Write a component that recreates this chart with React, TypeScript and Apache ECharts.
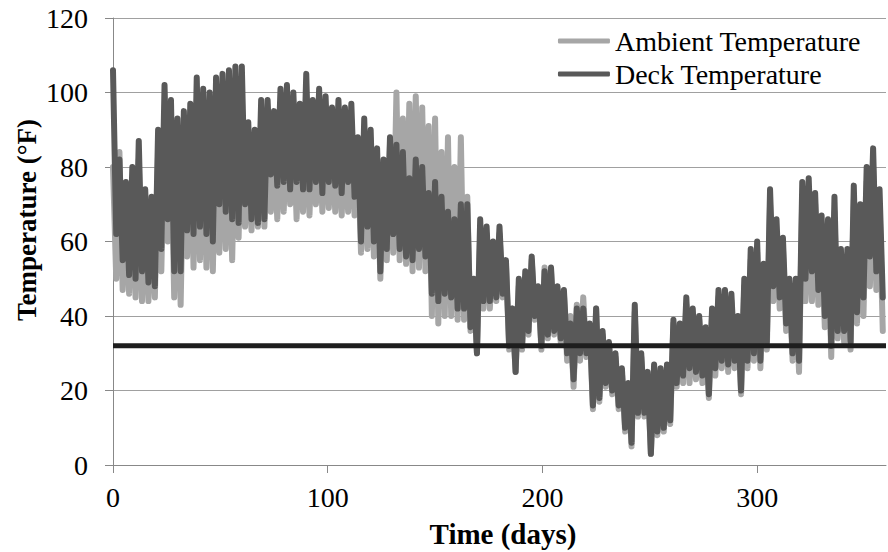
import React, { useEffect, useRef } from "react";
import * as echarts from "echarts";

// Values are read per 3-day block (block i starts at day 3*i): daily high and low envelope
const BLOCK_DAYS = 3;
const deckHigh = [
  106, 82, 76, 80, 87, 74, 72, 90, 102, 98,
  93, 95, 97, 104, 101, 100, 104, 105, 106, 107,
  107, 92, 90, 98, 98, 95, 101, 102, 100, 97,
  105, 98, 101, 99, 96, 98, 96, 97, 88, 93,
  90, 85, 82, 88, 86, 84, 77, 82, 80, 73,
  76, 72, 68, 66, 70, 70, 50, 66, 64, 60,
  64, 55, 42, 50, 52, 56, 48, 52, 53, 48,
  47, 38, 42, 42, 38, 42, 36, 33, 30, 26,
  22, 43, 30, 25, 27, 26, 27, 39, 38, 45,
  42, 40, 37, 42, 47, 47, 46, 40, 50, 58,
  60, 54, 74, 66, 61, 50, 50, 76, 77, 73,
  67, 66, 72, 58, 58, 75, 70, 80, 85, 74,
];
const deckLow = [
  62, 55, 51, 50, 52, 49, 48, 58, 66, 52,
  52, 63, 62, 64, 62, 60, 70, 68, 66, 65,
  70, 66, 65, 66, 78, 75, 76, 74, 76, 74,
  74, 76, 73, 76, 75, 73, 76, 72, 60, 64,
  60, 52, 58, 62, 58, 56, 55, 58, 56, 46,
  44, 46, 45, 42, 42, 37, 30, 44, 44, 45,
  46, 32, 25, 32, 36, 40, 32, 35, 36, 34,
  30, 23, 30, 30, 16, 18, 22, 20, 16, 10,
  6, 14, 14, 3, 9, 10, 12, 22, 24, 26,
  25, 24, 19, 26, 28, 27, 28, 20, 28, 30,
  28, 33, 48, 45, 38, 30, 28, 50, 52, 47,
  40, 32, 36, 36, 33, 41, 45, 56, 52, 45,
];
const ambientHigh = [
  80, 84, 74, 76, 82, 72, 70, 84, 92, 90,
  86, 88, 90, 94, 92, 92, 94, 95, 95, 96,
  96, 86, 84, 90, 90, 88, 92, 93, 92, 90,
  95, 90, 92, 91, 89, 90, 89, 89, 84, 86,
  84, 82, 80, 86, 100, 93, 97, 99, 96, 91,
  93, 84, 88, 80, 88, 72, 48, 62, 62, 58,
  62, 54, 42, 48, 50, 55, 47, 53, 52, 47,
  46, 40, 43, 45, 37, 42, 35, 32, 29, 25,
  21, 41, 29, 24, 26, 25, 26, 38, 37, 43,
  40, 39, 36, 41, 45, 45, 44, 39, 48, 55,
  57, 52, 70, 62, 58, 48, 48, 72, 72, 70,
  64, 62, 68, 56, 55, 71, 66, 76, 80, 70,
];
const ambientLow = [
  50, 47, 46, 45, 44, 44, 45, 52, 60, 45,
  43, 56, 53, 55, 53, 52, 57, 58, 55, 61,
  64, 63, 64, 64, 68, 66, 68, 70, 66, 68,
  67, 70, 68, 69, 68, 67, 68, 67, 57, 58,
  56, 50, 55, 57, 55, 54, 52, 53, 52, 40,
  38, 40, 40, 39, 39, 36, 30, 42, 42, 44,
  45, 31, 25, 31, 35, 39, 31, 34, 35, 33,
  28, 21, 28, 29, 15, 17, 21, 19, 15, 9,
  5, 13, 13, 3, 8, 9, 11, 21, 22, 22,
  23, 22, 18, 24, 26, 25, 26, 19, 26, 28,
  26, 31, 44, 42, 36, 28, 25, 44, 44, 43,
  37, 29, 34, 33, 31, 38, 40, 48, 47, 36,
];
const freezingLine = [32, 32];
const xTickValues = [0, 100, 200, 300];
const seriesNames = ["Ambient Temperature", "Deck Temperature"];

const FONT = "Liberation Serif";

function zigzag(high: number[], low: number[]) {
  const pts: number[][] = [];
  for (let i = 0; i < high.length; i++) {
    pts.push([i * BLOCK_DAYS, high[i]]);
    pts.push([i * BLOCK_DAYS + BLOCK_DAYS / 2, low[i]]);
  }
  return pts;
}

export default function App() {
  const ref = useRef<HTMLDivElement>(null);
  useEffect(() => {
    if (!ref.current) return;
    const chart = echarts.init(ref.current, undefined, { renderer: "svg" });
    chart.setOption({
      animation: false,
      backgroundColor: "#ffffff",
      textStyle: { fontFamily: FONT },
      grid: { left: 113, right: 2, top: 18, bottom: 87, containLabel: false },
      legend: {
        data: seriesNames.map((n) => ({ name: n, icon: "roundRect" })),
        orient: "vertical",
        right: 22,
        top: 22,
        itemWidth: 52,
        itemHeight: 5,
        itemGap: 5,
        textStyle: { fontFamily: FONT, fontSize: 28, color: "#000", lineHeight: 28 },
      },
      xAxis: {
        type: "value",
        min: 0,
        max: 360,
        interval: 100,
        axisLine: { show: true, onZero: false, lineStyle: { color: "#888888", width: 1 } },
        axisTick: { show: true, length: 8, customValues: xTickValues, lineStyle: { color: "#888888" } },
        axisLabel: {
          customValues: xTickValues,
          fontFamily: FONT,
          fontSize: 28,
          color: "#000",
          margin: 18,
          formatter: (v: number) => (v === 360 ? "" : String(v)),
        },
        splitLine: { show: false },
      },
      yAxis: {
        type: "value",
        min: 0,
        max: 120,
        interval: 20,
        axisLine: { show: true, lineStyle: { color: "#888888", width: 1 } },
        axisTick: { show: true, length: 8, lineStyle: { color: "#888888" } },
        axisLabel: { fontFamily: FONT, fontSize: 28, color: "#000", margin: 25 },
        splitLine: { show: true, lineStyle: { color: "#a0a0a0", width: 1.2 } },
      },
      graphic: [
        {
          type: "text",
          x: 27,
          y: 220,
          rotation: Math.PI / 2,
          style: {
            text: "Temperature (°F)",
            fontFamily: FONT,
            fontSize: 27,
            fontWeight: "bold",
            fill: "#000",
            align: "center",
            verticalAlign: "middle",
          },
        },
        {
          type: "text",
          x: 503,
          y: 534,
          style: {
            text: "Time (days)",
            fontFamily: FONT,
            fontSize: 29,
            fontWeight: "bold",
            fill: "#000",
            align: "center",
            verticalAlign: "middle",
          },
        },
      ],
      series: [
        {
          name: seriesNames[0],
          type: "line",
          data: zigzag(ambientHigh, ambientLow),
          showSymbol: false,
          symbol: "none",
          color: "#a6a6a6",
          lineStyle: { color: "#a6a6a6", width: 6, cap: "round", join: "round" },
          z: 2,
        },
        {
          name: seriesNames[1],
          type: "line",
          data: zigzag(deckHigh, deckLow),
          showSymbol: false,
          symbol: "none",
          color: "#595959",
          lineStyle: { color: "#595959", width: 6, cap: "round", join: "round" },
          z: 3,
        },
        {
          name: "32°F",
          type: "line",
          data: [
            [0, freezingLine[0]],
            [360, freezingLine[1]],
          ],
          showSymbol: false,
          symbol: "none",
          color: "#1e1e1e",
          lineStyle: { color: "#1e1e1e", width: 5 },
          z: 4,
        },
      ],
    });
    return () => chart.dispose();
  }, []);
  return <div ref={ref} style={{ position: "fixed", left: 0, top: 0, width: 888, height: 552 }} />;
}
